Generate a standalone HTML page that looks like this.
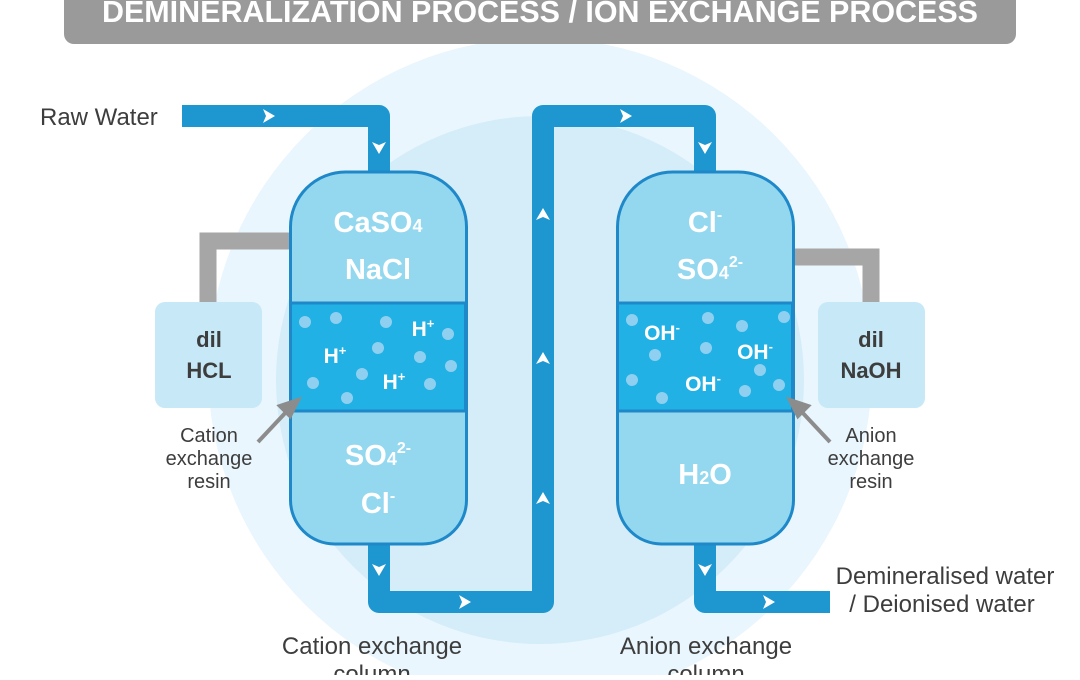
<!DOCTYPE html>
<html><head><meta charset="utf-8"><style>
body{margin:0;width:1080px;height:675px;overflow:hidden;background:#fff;font-family:"Liberation Sans",sans-serif}
</style></head><body>
<svg width="1080" height="675" viewBox="0 0 1080 675" xmlns="http://www.w3.org/2000/svg" font-family="Liberation Sans, sans-serif">
<circle cx="540" cy="370" r="332" fill="#e9f6fd"/>
<circle cx="540" cy="380" r="264" fill="#d4edf9"/>
<path d="M64 0H1016V34a10 10 0 0 1-10 10H74a10 10 0 0 1-10-10Z" fill="#9a9a9a"/>
<text x="540" y="22" text-anchor="middle" font-size="31" font-weight="bold" fill="#fff" textLength="876" lengthAdjust="spacingAndGlyphs">DEMINERALIZATION PROCESS / ION EXCHANGE PROCESS</text>
<!-- gray pipes -->
<path d="M289 241H208V302" fill="none" stroke="#a6a6a6" stroke-width="17"/>
<path d="M794 257H871V302" fill="none" stroke="#a6a6a6" stroke-width="17"/>
<!-- blue pipes -->
<g fill="none" stroke="#1e96d0" stroke-width="22" stroke-linejoin="round">
<path d="M182 116H379V172"/>
<path d="M379 543V602H543V116H705V172"/>
<path d="M705 543V602H830"/>
</g>
<g fill="#fff">
<path d="M263 109l12 7-12 7 3-7Z"/><path d="M372 142l7 12 7-12-7 3Z"/>
<path d="M620 109l12 7-12 7 3-7Z"/><path d="M698 142l7 12 7-12-7 3Z"/>
<path d="M536 220l7-12 7 12-7-3Z"/><path d="M536 364l7-12 7 12-7-3Z"/><path d="M536 504l7-12 7 12-7-3Z"/>
<path d="M372 564l7 12 7-12-7 3Z"/><path d="M698 564l7 12 7-12-7 3Z"/>
<path d="M459 595l12 7-12 7 3-7Z"/><path d="M763 595l12 7-12 7 3-7Z"/>
</g>
<!-- columns -->
<g stroke="#1e88c8" stroke-width="3">
<path d="M290.5 227a55 55 0 0 1 55-55h66a55 55 0 0 1 55 55V500a44 44 0 0 1-44 44h-88a44 44 0 0 1-44-44Z" fill="#94d8f0"/>
<rect x="290.5" y="303" width="175" height="108" fill="#21b1e4"/>
<path d="M617.5 227a55 55 0 0 1 55-55h66a55 55 0 0 1 55 55V500a44 44 0 0 1-44 44h-88a44 44 0 0 1-44-44Z" fill="#94d8f0"/>
<rect x="617.5" y="303" width="175" height="108" fill="#21b1e4"/>
</g>
<g fill="#8fd0f0">
<circle cx="305" cy="322" r="6"/><circle cx="336" cy="318" r="6"/><circle cx="386" cy="322" r="6"/><circle cx="448" cy="334" r="6"/>
<circle cx="378" cy="348" r="6"/><circle cx="420" cy="357" r="6"/><circle cx="451" cy="366" r="6"/><circle cx="313" cy="383" r="6"/>
<circle cx="362" cy="374" r="6"/><circle cx="347" cy="398" r="6"/><circle cx="430" cy="384" r="6"/>
<circle cx="632" cy="320" r="6"/><circle cx="708" cy="318" r="6"/><circle cx="742" cy="326" r="6"/><circle cx="784" cy="317" r="6"/>
<circle cx="706" cy="348" r="6"/><circle cx="655" cy="355" r="6"/><circle cx="632" cy="380" r="6"/><circle cx="760" cy="370" r="6"/>
<circle cx="662" cy="398" r="6"/><circle cx="745" cy="391" r="6"/><circle cx="779" cy="385" r="6"/>
</g>
<g fill="#fff" font-weight="bold" text-anchor="middle">
<text x="378" y="232" font-size="29">CaSO<tspan font-size="18">4</tspan></text>
<text x="378" y="279" font-size="29">NaCl</text>
<text x="378" y="465" font-size="29">SO<tspan font-size="18">4</tspan><tspan font-size="16" dy="-12">2-</tspan></text>
<text x="378" y="513" font-size="29">Cl<tspan font-size="16" dy="-12">-</tspan></text>
<text x="423" y="336" font-size="21">H<tspan font-size="13" dy="-8">+</tspan></text>
<text x="335" y="363" font-size="21">H<tspan font-size="13" dy="-8">+</tspan></text>
<text x="394" y="389" font-size="21">H<tspan font-size="13" dy="-8">+</tspan></text>
<text x="705" y="232" font-size="29">Cl<tspan font-size="16" dy="-12">-</tspan></text>
<text x="710" y="279" font-size="29">SO<tspan font-size="18">4</tspan><tspan font-size="16" dy="-12">2-</tspan></text>
<text x="705" y="484" font-size="29">H<tspan font-size="18">2</tspan>O</text>
<text x="662" y="340" font-size="21">OH<tspan font-size="13" dy="-8">-</tspan></text>
<text x="755" y="359" font-size="21">OH<tspan font-size="13" dy="-8">-</tspan></text>
<text x="703" y="391" font-size="21">OH<tspan font-size="13" dy="-8">-</tspan></text>
</g>
<!-- boxes -->
<rect x="155" y="302" width="107" height="106" rx="10" fill="#c6e8f7"/>
<rect x="818" y="302" width="107" height="106" rx="10" fill="#c6e8f7"/>
<g fill="#3d3d3d" font-weight="bold" font-size="22" text-anchor="middle">
<text x="209" y="347">dil</text><text x="209" y="378">HCL</text>
<text x="871" y="347">dil</text><text x="871" y="378">NaOH</text>
</g>
<!-- resin arrows -->
<g stroke="#8c8c8c" stroke-width="4" fill="#8c8c8c">
<line x1="258" y1="442" x2="288" y2="410"/><path d="M298 400l-18 6 10 10Z"/>
<line x1="830" y1="442" x2="800" y2="410"/><path d="M790 400l18 6-10 10Z"/>
</g>
<g fill="#3d3d3d" font-size="20" text-anchor="middle">
<text x="209" y="442">Cation</text><text x="209" y="465">exchange</text><text x="209" y="488">resin</text>
<text x="871" y="442">Anion</text><text x="871" y="465">exchange</text><text x="871" y="488">resin</text>
<text x="40" y="125" font-size="24" text-anchor="start">Raw Water</text>
<text x="945" y="584" font-size="24">Demineralised water</text>
<text x="942" y="612" font-size="24">/ Deionised water</text>
<text x="372" y="654" font-size="24">Cation exchange</text>
<text x="372" y="682" font-size="24">column</text>
<text x="706" y="654" font-size="24">Anion exchange</text>
<text x="706" y="682" font-size="24">column</text>
</g>
</svg>
</body></html>
